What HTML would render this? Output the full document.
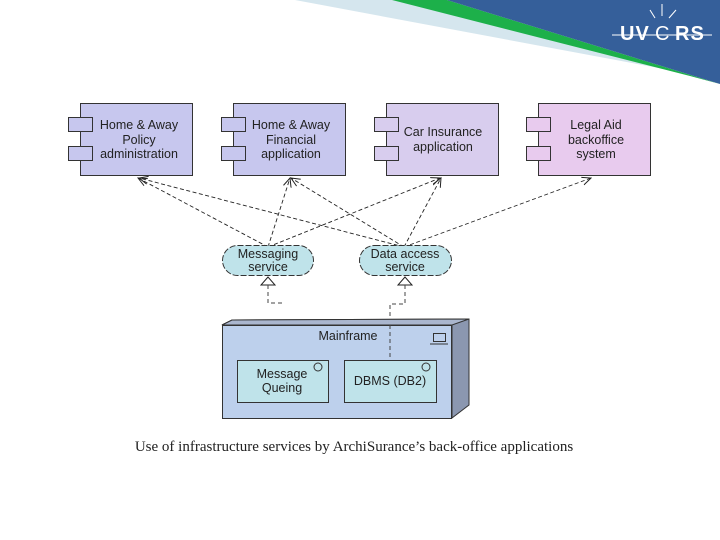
<!DOCTYPE html>
<html><head><meta charset="utf-8"><style>
html,body{margin:0;padding:0;background:#fff;}
svg{display:block;}
text{font-family:"Liberation Sans",sans-serif;}
</style></head><body>
<svg width="720" height="540" viewBox="0 0 720 540" xmlns="http://www.w3.org/2000/svg">
<defs>
<marker id="ar" markerWidth="10" markerHeight="10" refX="9" refY="5" orient="auto" markerUnits="userSpaceOnUse">
<path d="M0,1 L9,5 L0,9" fill="none" stroke="#222" stroke-width="1"/>
</marker>
</defs>
<polygon points="295,0 447,0 690,75 720,84 680,72" fill="#d5e6ee"/>
<polygon points="392,0 447,0 720,84 690,76" fill="#1db04a"/>
<polygon points="447,0 720,0 720,84" fill="#355f9a"/>
<g fill="none" stroke="#fff" stroke-width="1">
<line x1="662" y1="16" x2="662" y2="4"/><line x1="655" y1="18" x2="650" y2="10"/><line x1="669" y1="18" x2="676" y2="10"/>
<line x1="612" y1="35" x2="712" y2="35"/>
</g>
<text x="620" y="40" font-size="20" font-weight="bold" fill="#fff" letter-spacing="1">UV</text>
<text x="655" y="40" font-size="20" fill="#fff">C</text>
<text x="675" y="40" font-size="20" font-weight="bold" fill="#fff" letter-spacing="1">RS</text>

<g stroke="#333" stroke-width="1">
<rect x="80.5" y="103.5" width="112" height="72" fill="#c7c7ee"/>
<rect x="68.5" y="117.5" width="24" height="14" fill="#c7c7ee"/>
<rect x="68.5" y="146.5" width="24" height="14" fill="#c7c7ee"/>
<rect x="233.5" y="103.5" width="112" height="72" fill="#c7c7ee"/>
<rect x="221.5" y="117.5" width="24" height="14" fill="#c7c7ee"/>
<rect x="221.5" y="146.5" width="24" height="14" fill="#c7c7ee"/>
<rect x="386.5" y="103.5" width="112" height="72" fill="#d8cdee"/>
<rect x="374.5" y="117.5" width="24" height="14" fill="#d8cdee"/>
<rect x="374.5" y="146.5" width="24" height="14" fill="#d8cdee"/>
<rect x="538.5" y="103.5" width="112" height="72" fill="#e8cbee"/>
<rect x="526.5" y="117.5" width="24" height="14" fill="#e8cbee"/>
<rect x="526.5" y="146.5" width="24" height="14" fill="#e8cbee"/>
</g>
<g font-size="12.5" fill="#222" text-anchor="middle">
<text x="139" y="129">Home &amp; Away</text><text x="139" y="144">Policy</text><text x="139" y="158">administration</text>
<text x="291" y="129">Home &amp; Away</text><text x="291" y="144">Financial</text><text x="291" y="158">application</text>
<text x="443" y="136">Car Insurance</text><text x="443" y="151">application</text>
<text x="596" y="129">Legal Aid</text><text x="596" y="144">backoffice</text><text x="596" y="158">system</text>
</g>

<g stroke="#222" stroke-width="0.9" stroke-dasharray="4,2.5" fill="none" marker-end="url(#ar)">
<line x1="268" y1="247" x2="138" y2="178"/>
<line x1="268" y1="247" x2="290" y2="178"/>
<line x1="268" y1="247" x2="440" y2="178"/>
<line x1="404" y1="247" x2="139" y2="178"/>
<line x1="404" y1="247" x2="291" y2="178"/>
<line x1="404" y1="247" x2="441" y2="178"/>
<line x1="404" y1="247" x2="591" y2="178"/>
</g>

<rect x="222.5" y="245.5" width="91" height="30" rx="15" fill="#bfe3ea" stroke="#333" stroke-dasharray="6,2"/>
<rect x="359.5" y="245.5" width="92" height="30" rx="15" fill="#bfe3ea" stroke="#333" stroke-dasharray="6,2"/>
<g font-size="12.5" fill="#222" text-anchor="middle">
<text x="268" y="258">Messaging</text><text x="268" y="271">service</text>
<text x="405" y="258">Data access</text><text x="405" y="271">service</text>
</g>
<g fill="#fff" stroke="#222">
<polygon points="268,277 261,285 275,285"/>
<polygon points="405,277 398,285 412,285"/>
</g>
<g stroke="#444" stroke-dasharray="4,3" fill="none">
<polyline points="268,285 268,303 283,303"/>
<polyline points="405,285 405,304 390,304 390,360"/>
</g>

<polygon points="222,325 232,320 469,319 469,405 452,418 452,325" fill="#8b97b0" stroke="#333"/>
<polygon points="222,325 232,320 469,319 452,325" fill="#aab6ce" stroke="#333"/>
<rect x="222.5" y="325.5" width="229" height="93" fill="#bdd0ec" stroke="#333"/>
<line x1="390" y1="325" x2="390" y2="360" stroke="#444" stroke-dasharray="4,3"/>
<text x="348" y="340" font-size="12.5" fill="#222" text-anchor="middle">Mainframe</text>
<rect x="433.5" y="333.5" width="12" height="8" fill="none" stroke="#333"/>
<line x1="430" y1="344" x2="448" y2="344" stroke="#333"/>
<rect x="237.5" y="360.5" width="91" height="42" fill="#bfe3ea" stroke="#333"/>
<rect x="344.5" y="360.5" width="92" height="42" fill="#bfe3ea" stroke="#333"/>
<circle cx="318" cy="367" r="4" fill="none" stroke="#333"/>
<circle cx="426" cy="367" r="4" fill="none" stroke="#333"/>
<g font-size="12.5" fill="#222" text-anchor="middle">
<text x="282" y="378">Message</text><text x="282" y="392">Queing</text>
<text x="390" y="385">DBMS (DB2)</text>
</g>

<text x="354" y="451" font-size="15" fill="#222" text-anchor="middle" style="font-family:'Liberation Serif',serif">Use of infrastructure services by ArchiSurance’s back-office applications</text>
</svg>
</body></html>
